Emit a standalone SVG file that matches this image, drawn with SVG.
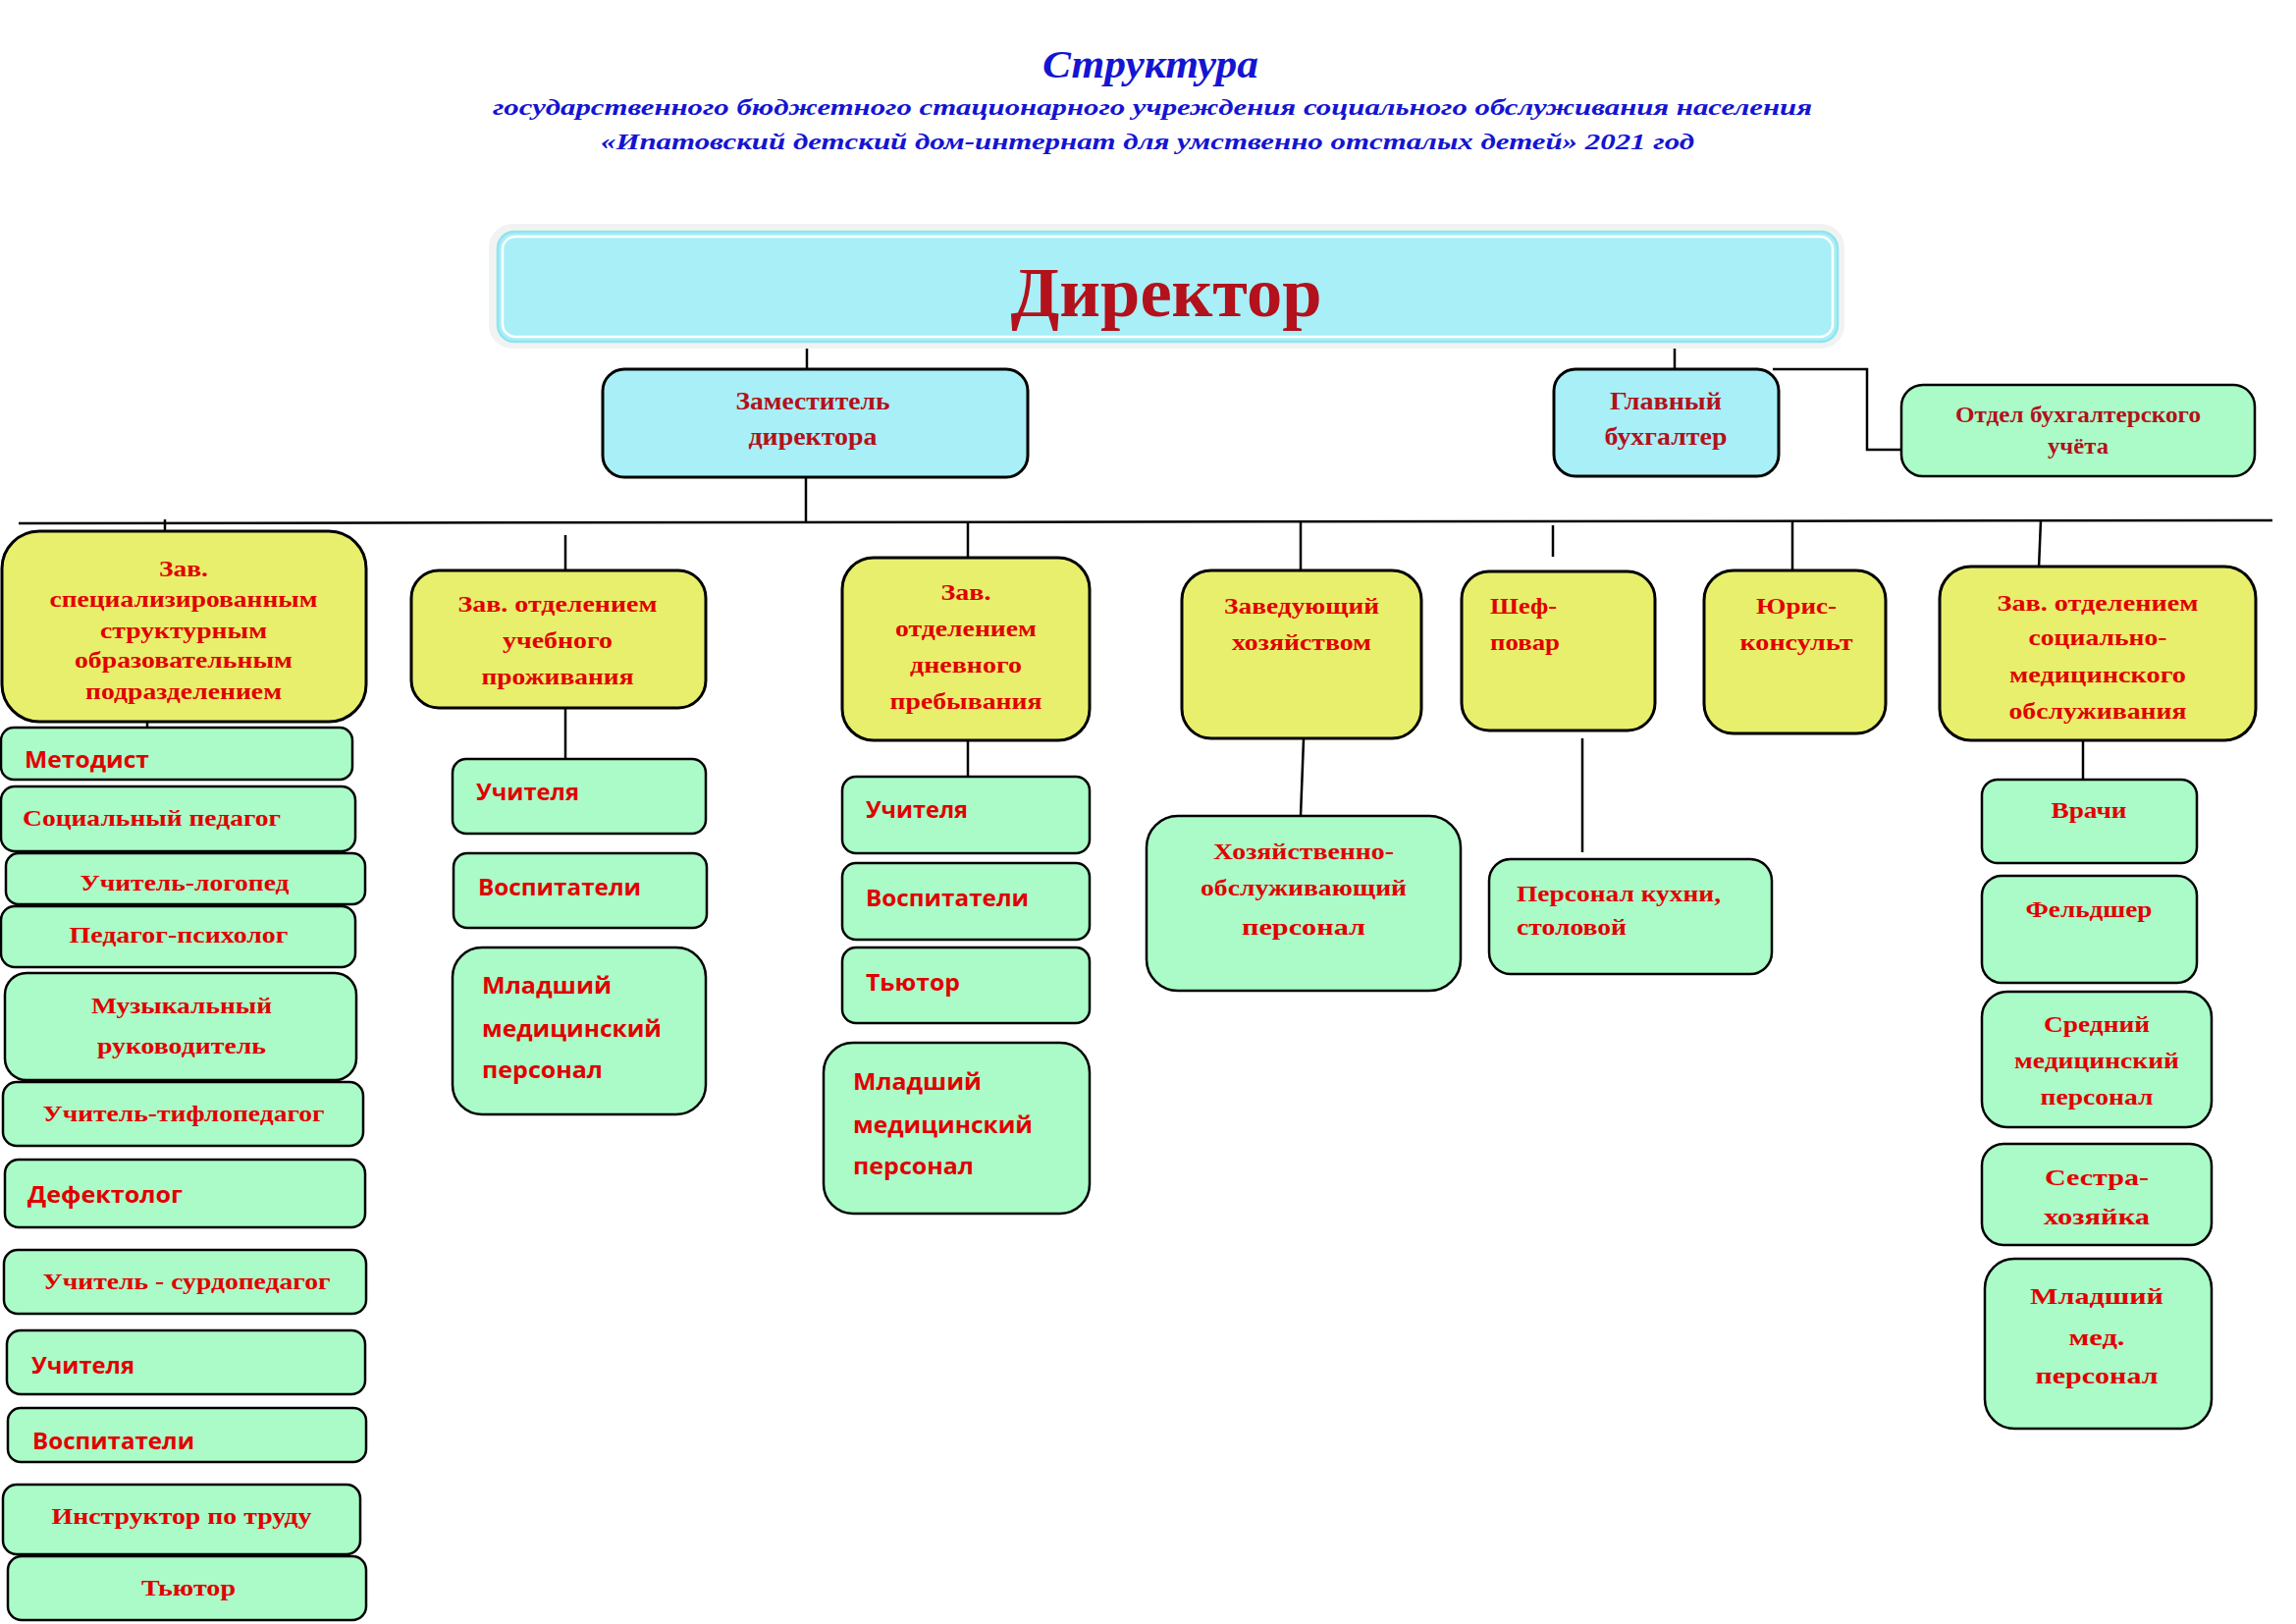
<svg xmlns="http://www.w3.org/2000/svg" width="2339" height="1654" viewBox="0 0 2339 1654">
<style>
.bg{fill:#ffffff}
.cy{fill:#a8eff7;stroke:#000;stroke-width:3}
.ye{fill:#e7ef6c;stroke:#000;stroke-width:3}
.gr{fill:#aafbc8;stroke:#000;stroke-width:2.5}
.ln{fill:none;stroke:#000;stroke-width:2.5}
.ttl{font-family:"Liberation Serif",serif;font-weight:bold;font-style:italic;fill:#1414d2}
.dr{font-family:"Liberation Serif",serif;font-weight:bold;fill:#b3111b;text-anchor:middle}
.sr{font-family:"Liberation Serif",serif;font-weight:bold;fill:#e10000;font-size:24px}
.ss{font-family:"Open Sans","Liberation Sans",sans-serif;font-weight:bold;fill:#e10000;font-size:24px}
.m{text-anchor:middle}
</style>
<rect class="bg" x="0" y="0" width="2339" height="1654"/>

<g id="title">
<text class="ttl m" x="1172" y="79" font-size="40" textLength="220" lengthAdjust="spacingAndGlyphs">Структура</text>
<text class="ttl m" x="1174" y="117" font-size="23" textLength="1344" lengthAdjust="spacingAndGlyphs">государственного бюджетного стационарного учреждения социального обслуживания населения</text>
<text class="ttl m" x="1169" y="152" font-size="23" textLength="1114" lengthAdjust="spacingAndGlyphs">«Ипатовский детский дом-интернат для умственно отсталых детей» 2021 год</text>
</g>

<g id="connectors">
<path class="ln" d="M822 338V376"/>
<path class="ln" d="M1706 338V376"/>
<path class="ln" d="M1806 376H1902V458H1937"/>
<path class="ln" d="M821 463V532"/>
<path class="ln" d="M19 533L2315 530"/>
<path class="ln" d="M168 529V580"/>
<path class="ln" d="M576 545V581"/>
<path class="ln" d="M986 531V580"/>
<path class="ln" d="M1325 531V581"/>
<path class="ln" d="M1582 535V567"/>
<path class="ln" d="M1826 530V581"/>
<path class="ln" d="M2079 530L2076 603"/>
<path class="ln" d="M150 718V763"/>
<path class="ln" d="M576 721V773"/>
<path class="ln" d="M986 748V791"/>
<path class="ln" d="M1328 753L1325 831"/>
<path class="ln" d="M1612 752V868"/>
<path class="ln" d="M2122 743V794"/>
</g>

<g id="director">
<rect x="498" y="228" width="1381" height="127" rx="24" fill="#f1f3f3"/>
<rect x="507" y="236" width="1365" height="112" rx="17" fill="#a8eff7" stroke="#90e4ee" stroke-width="2.5"/>
<rect x="512" y="241" width="1355" height="102" rx="13" fill="none" stroke="#ffffff" stroke-width="2.5"/>
<text class="dr" x="1188" y="322" font-size="72" textLength="317" lengthAdjust="spacingAndGlyphs">Директор</text>
</g>

<g id="deputy">
<rect class="cy" x="614" y="376" width="433" height="110" rx="22"/>
<text class="dr" x="828" y="417" font-size="25" textLength="157" lengthAdjust="spacingAndGlyphs">Заместитель</text>
<text class="dr" x="828" y="453" font-size="25" textLength="131" lengthAdjust="spacingAndGlyphs">директора</text>
</g>

<g id="chief-accountant">
<rect class="cy" x="1583" y="376" width="229" height="109" rx="22"/>
<text class="dr" x="1697" y="417" font-size="25" textLength="114" lengthAdjust="spacingAndGlyphs">Главный</text>
<text class="dr" x="1697" y="453" font-size="25" textLength="125" lengthAdjust="spacingAndGlyphs">бухгалтер</text>
</g>

<g id="accounting">
<rect class="gr" x="1937" y="392" width="360" height="93" rx="22"/>
<text class="dr" x="2117" y="430" font-size="23" textLength="250" lengthAdjust="spacingAndGlyphs">Отдел бухгалтерского</text>
<text class="dr" x="2117" y="462" font-size="23" textLength="62" lengthAdjust="spacingAndGlyphs">учёта</text>
</g>

<g id="head-special">
<rect class="ye" x="2" y="541" width="371" height="194" rx="38"/>
<text class="sr m" x="187" y="587" textLength="50" lengthAdjust="spacingAndGlyphs">Зав.</text>
<text class="sr m" x="187" y="618" textLength="273" lengthAdjust="spacingAndGlyphs">специализированным</text>
<text class="sr m" x="187" y="650" textLength="170" lengthAdjust="spacingAndGlyphs">структурным</text>
<text class="sr m" x="187" y="680" textLength="222" lengthAdjust="spacingAndGlyphs">образовательным</text>
<text class="sr m" x="187" y="712" textLength="200" lengthAdjust="spacingAndGlyphs">подразделением</text>
</g>

<g id="a-metodist"><rect class="gr" x="1" y="741" width="358" height="53" rx="13"/>
<text class="ss" x="25" y="782" font-size="22" textLength="127" lengthAdjust="spacingAndGlyphs">Методист</text></g>
<g id="a-socped"><rect class="gr" x="1" y="801" width="361" height="66" rx="14"/>
<text class="sr" x="23" y="841" textLength="263" lengthAdjust="spacingAndGlyphs">Социальный педагог</text></g>
<g id="a-logoped"><rect class="gr" x="6" y="869" width="366" height="52" rx="13"/>
<text class="sr m" x="188" y="907" textLength="213" lengthAdjust="spacingAndGlyphs">Учитель-логопед</text></g>
<g id="a-psych"><rect class="gr" x="1" y="923" width="361" height="62" rx="14"/>
<text class="sr m" x="182" y="960" textLength="223" lengthAdjust="spacingAndGlyphs">Педагог-психолог</text></g>
<g id="a-music"><rect class="gr" x="5" y="991" width="358" height="109" rx="22"/>
<text class="sr m" x="185" y="1032" textLength="184" lengthAdjust="spacingAndGlyphs">Музыкальный</text>
<text class="sr m" x="185" y="1073" textLength="172" lengthAdjust="spacingAndGlyphs">руководитель</text></g>
<g id="a-tiflo"><rect class="gr" x="3" y="1102" width="367" height="65" rx="14"/>
<text class="sr m" x="187" y="1142" textLength="287" lengthAdjust="spacingAndGlyphs">Учитель-тифлопедагог</text></g>
<g id="a-defekt"><rect class="gr" x="5" y="1181" width="367" height="69" rx="14"/>
<text class="ss" x="28" y="1225" textLength="158" lengthAdjust="spacingAndGlyphs">Дефектолог</text></g>
<g id="a-surdo"><rect class="gr" x="4" y="1273" width="369" height="65" rx="14"/>
<text class="sr m" x="190" y="1313" textLength="293" lengthAdjust="spacingAndGlyphs">Учитель - сурдопедагог</text></g>
<g id="a-teachers"><rect class="gr" x="7" y="1355" width="365" height="65" rx="14"/>
<text class="ss" x="32" y="1399" textLength="105" lengthAdjust="spacingAndGlyphs">Учителя</text></g>
<g id="a-vosp"><rect class="gr" x="8" y="1434" width="365" height="55" rx="13"/>
<text class="ss" x="33" y="1476" textLength="165" lengthAdjust="spacingAndGlyphs">Воспитатели</text></g>
<g id="a-instr"><rect class="gr" x="3" y="1512" width="364" height="71" rx="14"/>
<text class="sr m" x="185" y="1552" textLength="265" lengthAdjust="spacingAndGlyphs">Инструктор по труду</text></g>
<g id="a-tutor"><rect class="gr" x="8" y="1585" width="365" height="65" rx="14"/>
<text class="sr m" x="192" y="1625" textLength="96" lengthAdjust="spacingAndGlyphs">Тьютор</text></g>

<g id="head-residence">
<rect class="ye" x="419" y="581" width="300" height="140" rx="28"/>
<text class="sr m" x="568" y="623" font-size="25" textLength="203" lengthAdjust="spacingAndGlyphs">Зав. отделением</text>
<text class="sr m" x="568" y="660" font-size="25" textLength="112" lengthAdjust="spacingAndGlyphs">учебного</text>
<text class="sr m" x="568" y="697" font-size="25" textLength="155" lengthAdjust="spacingAndGlyphs">проживания</text>
</g>
<g id="b-teachers"><rect class="gr" x="461" y="773" width="258" height="76" rx="14"/>
<text class="ss" x="485" y="815" font-size="25" textLength="105" lengthAdjust="spacingAndGlyphs">Учителя</text></g>
<g id="b-vosp"><rect class="gr" x="462" y="869" width="258" height="76" rx="14"/>
<text class="ss" x="487" y="912" font-size="25" textLength="166" lengthAdjust="spacingAndGlyphs">Воспитатели</text></g>
<g id="b-junior"><rect class="gr" x="461" y="965" width="258" height="170" rx="30"/>
<text class="ss" x="491" y="1012" font-size="26" textLength="132" lengthAdjust="spacingAndGlyphs">Младший</text>
<text class="ss" x="491" y="1056" font-size="26" textLength="183" lengthAdjust="spacingAndGlyphs">медицинский</text>
<text class="ss" x="491" y="1098" font-size="26" textLength="123" lengthAdjust="spacingAndGlyphs">персонал</text></g>

<g id="head-day">
<rect class="ye" x="858" y="568" width="252" height="186" rx="32"/>
<text class="sr m" x="984" y="611" font-size="25" textLength="51" lengthAdjust="spacingAndGlyphs">Зав.</text>
<text class="sr m" x="984" y="648" font-size="25" textLength="144" lengthAdjust="spacingAndGlyphs">отделением</text>
<text class="sr m" x="984" y="685" font-size="25" textLength="114" lengthAdjust="spacingAndGlyphs">дневного</text>
<text class="sr m" x="984" y="722" font-size="25" textLength="155" lengthAdjust="spacingAndGlyphs">пребывания</text>
</g>
<g id="c-teachers"><rect class="gr" x="858" y="791" width="252" height="78" rx="14"/>
<text class="ss" x="882" y="833" font-size="25" textLength="104" lengthAdjust="spacingAndGlyphs">Учителя</text></g>
<g id="c-vosp"><rect class="gr" x="858" y="879" width="252" height="78" rx="14"/>
<text class="ss" x="882" y="923" font-size="25" textLength="166" lengthAdjust="spacingAndGlyphs">Воспитатели</text></g>
<g id="c-tutor"><rect class="gr" x="858" y="965" width="252" height="77" rx="14"/>
<text class="ss" x="882" y="1009" font-size="25" textLength="96" lengthAdjust="spacingAndGlyphs">Тьютор</text></g>
<g id="c-junior"><rect class="gr" x="839" y="1062" width="271" height="174" rx="30"/>
<text class="ss" x="869" y="1110" font-size="26" textLength="131" lengthAdjust="spacingAndGlyphs">Младший</text>
<text class="ss" x="869" y="1154" font-size="26" textLength="183" lengthAdjust="spacingAndGlyphs">медицинский</text>
<text class="ss" x="869" y="1196" font-size="26" textLength="123" lengthAdjust="spacingAndGlyphs">персонал</text></g>

<g id="head-household">
<rect class="ye" x="1204" y="581" width="244" height="171" rx="30"/>
<text class="sr m" x="1326" y="625" font-size="26" textLength="158" lengthAdjust="spacingAndGlyphs">Заведующий</text>
<text class="sr m" x="1326" y="662" font-size="26" textLength="142" lengthAdjust="spacingAndGlyphs">хозяйством</text>
</g>
<g id="d-staff"><rect class="gr" x="1168" y="831" width="320" height="178" rx="32"/>
<text class="sr m" x="1328" y="875" font-size="26" textLength="184" lengthAdjust="spacingAndGlyphs">Хозяйственно-</text>
<text class="sr m" x="1328" y="912" font-size="26" textLength="210" lengthAdjust="spacingAndGlyphs">обслуживающий</text>
<text class="sr m" x="1328" y="952" font-size="26" textLength="126" lengthAdjust="spacingAndGlyphs">персонал</text></g>

<g id="chef">
<rect class="ye" x="1489" y="582" width="197" height="162" rx="28"/>
<text class="sr" x="1518" y="625" font-size="26" textLength="68" lengthAdjust="spacingAndGlyphs">Шеф-</text>
<text class="sr" x="1518" y="662" font-size="26" textLength="71" lengthAdjust="spacingAndGlyphs">повар</text>
</g>
<g id="e-kitchen"><rect class="gr" x="1517" y="875" width="288" height="117" rx="22"/>
<text class="sr" x="1545" y="918" font-size="26" textLength="208" lengthAdjust="spacingAndGlyphs">Персонал кухни,</text>
<text class="sr" x="1545" y="952" font-size="26" textLength="112" lengthAdjust="spacingAndGlyphs">столовой</text></g>

<g id="lawyer">
<rect class="ye" x="1736" y="581" width="185" height="166" rx="30"/>
<text class="sr m" x="1830" y="625" font-size="26" textLength="82" lengthAdjust="spacingAndGlyphs">Юрис-</text>
<text class="sr m" x="1830" y="662" font-size="26" textLength="115" lengthAdjust="spacingAndGlyphs">консульт</text>
</g>

<g id="head-medical">
<rect class="ye" x="1976" y="577" width="322" height="177" rx="32"/>
<text class="sr m" x="2137" y="622" font-size="25" textLength="205" lengthAdjust="spacingAndGlyphs">Зав. отделением</text>
<text class="sr m" x="2137" y="657" font-size="25" textLength="141" lengthAdjust="spacingAndGlyphs">социально-</text>
<text class="sr m" x="2137" y="695" font-size="25" textLength="180" lengthAdjust="spacingAndGlyphs">медицинского</text>
<text class="sr m" x="2137" y="732" font-size="25" textLength="181" lengthAdjust="spacingAndGlyphs">обслуживания</text>
</g>
<g id="g-doctors"><rect class="gr" x="2019" y="794" width="219" height="85" rx="16"/>
<text class="sr m" x="2128" y="833" textLength="77" lengthAdjust="spacingAndGlyphs">Врачи</text></g>
<g id="g-feldsher"><rect class="gr" x="2019" y="892" width="219" height="109" rx="20"/>
<text class="sr m" x="2128" y="934" textLength="129" lengthAdjust="spacingAndGlyphs">Фельдшер</text></g>
<g id="g-middle"><rect class="gr" x="2019" y="1010" width="234" height="138" rx="26"/>
<text class="sr m" x="2136" y="1051" textLength="108" lengthAdjust="spacingAndGlyphs">Средний</text>
<text class="sr m" x="2136" y="1088" textLength="168" lengthAdjust="spacingAndGlyphs">медицинский</text>
<text class="sr m" x="2136" y="1125" textLength="115" lengthAdjust="spacingAndGlyphs">персонал</text></g>
<g id="g-sister"><rect class="gr" x="2019" y="1165" width="234" height="103" rx="22"/>
<text class="sr m" x="2136" y="1207" font-size="28" textLength="106" lengthAdjust="spacingAndGlyphs">Сестра-</text>
<text class="sr m" x="2136" y="1247" font-size="28" textLength="108" lengthAdjust="spacingAndGlyphs">хозяйка</text></g>
<g id="g-junior"><rect class="gr" x="2022" y="1282" width="231" height="173" rx="30"/>
<text class="sr m" x="2136" y="1328" font-size="28" textLength="136" lengthAdjust="spacingAndGlyphs">Младший</text>
<text class="sr m" x="2136" y="1370" font-size="28" textLength="57" lengthAdjust="spacingAndGlyphs">мед.</text>
<text class="sr m" x="2136" y="1409" font-size="28" textLength="125" lengthAdjust="spacingAndGlyphs">персонал</text></g>
</svg>
